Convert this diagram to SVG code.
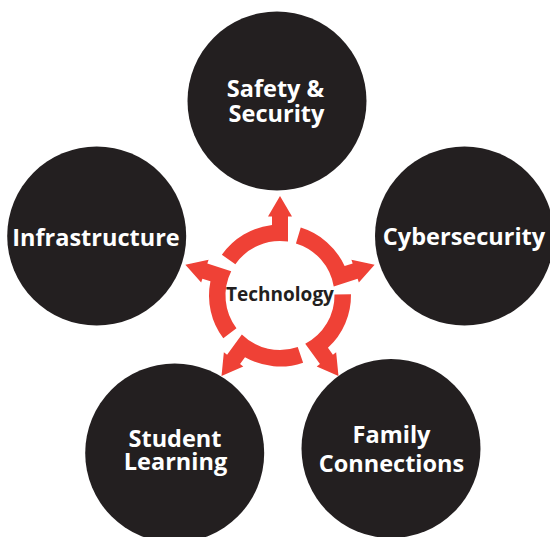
<svg xmlns="http://www.w3.org/2000/svg" xmlns:xlink="http://www.w3.org/1999/xlink" width="550" height="537" viewBox="0 0 550 537">
  <style>
    .node { fill: #231f20; }
    .label { font-family: "Open Sans", "Liberation Sans", sans-serif; font-weight: bold; font-size: 23.5px; fill: #ffffff; text-anchor: middle; }
    .center { font-family: "Open Sans", "Liberation Sans", sans-serif; font-weight: bold; font-size: 19px; fill: #231f20; text-anchor: middle; }
    .arrow { fill: #ef4136; }
  </style>
  <defs>
    <path id="seg" class="arrow" d="M -58.16 -40.72 A 71 71 0 0 1 -8 -70.55 L -8 -79 L -12 -79 L 0 -99.5 L 12 -79 L 8 -79 L 8 -53.91 A 54.5 54.5 0 0 0 -44.65 -31.26 Z"/>
  </defs>
  <rect width="550" height="537" fill="#ffffff"/>

  <g id="node-safety">
    <circle class="node" cx="277" cy="101" r="89.5"/>
    <text class="label"><tspan x="275.5" y="97">Safety &amp;</tspan><tspan x="276.5" y="122">Security</tspan></text>
  </g>
  <g id="node-infrastructure">
    <circle class="node" cx="96.7" cy="236" r="89.5"/>
    <text class="label" x="96" y="246">Infrastructure</text>
  </g>
  <g id="node-cybersecurity">
    <circle class="node" cx="464.5" cy="236" r="89.5"/>
    <text class="label" x="464" y="245">Cybersecurity</text>
  </g>
  <g id="node-student">
    <circle class="node" cx="174.7" cy="453" r="89.5"/>
    <text class="label"><tspan x="175" y="446.5">Student</tspan><tspan x="175.5" y="470">Learning</tspan></text>
  </g>
  <g id="node-family">
    <circle class="node" cx="391" cy="448.5" r="89.5"/>
    <text class="label"><tspan x="391.5" y="442.5">Family</tspan><tspan x="391.5" y="471.5">Connections</tspan></text>
  </g>

  <g id="connectors">
    <use xlink:href="#seg" href="#seg" transform="translate(280 295.5) rotate(0)"/>
    <use xlink:href="#seg" href="#seg" transform="translate(280 295.5) rotate(72)"/>
    <use xlink:href="#seg" href="#seg" transform="translate(280 295.5) rotate(144)"/>
    <use xlink:href="#seg" href="#seg" transform="translate(280 295.5) rotate(216)"/>
    <use xlink:href="#seg" href="#seg" transform="translate(280 295.5) rotate(288)"/>
  </g>

  <g id="node-technology">
    <text class="center" x="280" y="300.5">Technology</text>
  </g>
</svg>
